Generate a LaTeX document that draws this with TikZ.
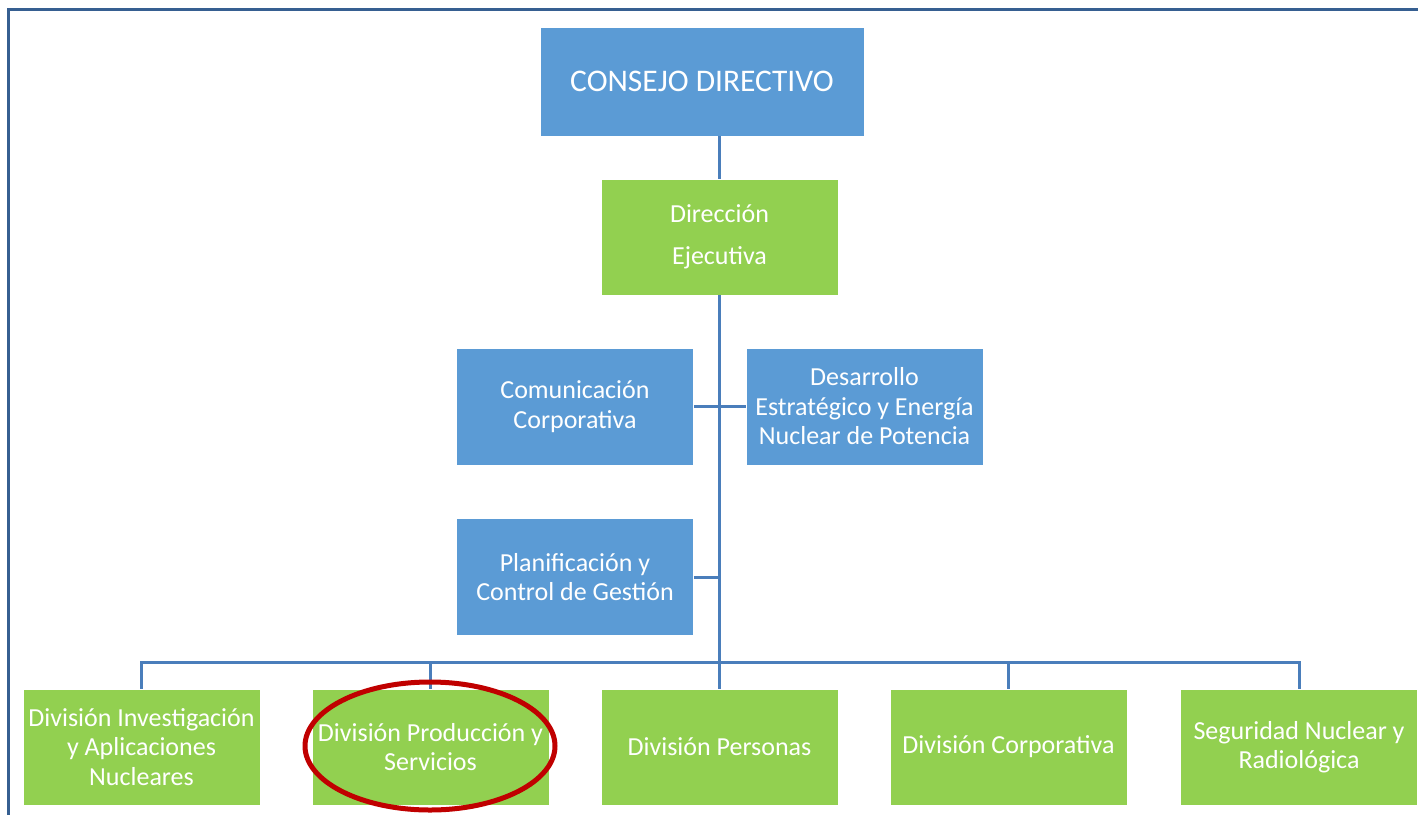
\documentclass[tikz,border=0pt]{standalone}
\usepackage{fontspec}
\setmainfont{Carlito}
\definecolor{boxblue}{HTML}{5B9BD5}
\definecolor{boxgreen}{HTML}{92D050}
\definecolor{linkblue}{HTML}{4A7EBB}
\definecolor{frameblue}{HTML}{365F91}
\definecolor{ringred}{HTML}{C00000}
\tikzset{
  unit/.style={draw=white, line width=0.6pt, minimum width=237pt, minimum height=117pt,
    inner sep=0pt, align=center, text=white,
    font=\fontsize{26}{29.5}\selectfont},
  bluebox/.style={unit, fill=boxblue},
  greenbox/.style={unit, fill=boxgreen},
  link/.style={draw=linkblue, line width=3pt},
}
\begin{document}
\begin{tikzpicture}[x=1pt,y=-1pt]
\useasboundingbox (0,0) rectangle (1418,814);
\draw[frameblue, line width=3pt] (8.5,815) -- (8.5,9.5) -- (1419,9.5);

\node[bluebox, minimum width=324pt, minimum height=109pt, font=\fontsize{31.5}{36}\selectfont] (cd) at (702,81.5) {CONSEJO DIRECTIVO};
\node[greenbox, minimum height=116pt, font=\fontsize{26}{42}\selectfont] (de) at (719.5,237) {Dirección\\Ejecutiva};
\node[bluebox] (cc) at (575,406.5) {Comunicación\\Corporativa};
\node[bluebox] (des) at (864.5,406.5) {Desarrollo\\Estratégico y Energía\\Nuclear de Potencia};
\node[bluebox] (pl) at (575,577) {Planificación y\\Control de Gestión};

\node[greenbox, minimum height=116pt] (b1) at (141.5,747) {División Investigación\\y Aplicaciones\\Nucleares};
\node[greenbox, minimum height=116pt] (b2) at (430.5,747) {División Producción y\\Servicios};
\node[greenbox, minimum height=116pt] (b3) at (719.5,747) {División Personas};
\node[greenbox, minimum height=116pt] (b4) at (1008.5,747) {División Corporativa};
\node[greenbox, minimum height=116pt] (b5) at (1299,747) {Seguridad Nuclear y\\Radiológica};

\coordinate (bus) at (720,662);

\draw[link] (de.north) -- (de.north |- cd.south);
\draw[link] (de.south) -- (de.south |- b3.north);
\draw[link] (cc.east) -- (des.west);
\draw[link] (pl.east) -- (pl.east -| de.south);
\draw[link] (b1.north) -- (b1.north |- bus) -- (b5.north |- bus) -- (b5.north);
\draw[link] (b2.north) -- (b2.north |- bus);
\draw[link] (b4.north) -- (b4.north |- bus);

\draw[ringred, line width=5pt] (430,746) ellipse [x radius=125pt, y radius=64pt];
\end{tikzpicture}
\end{document}
